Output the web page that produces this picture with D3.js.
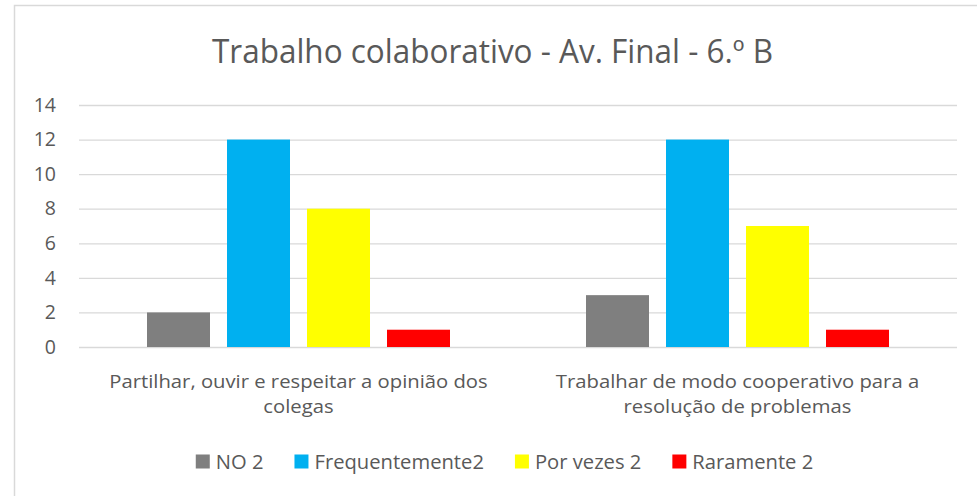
<!DOCTYPE html>
<html>
<head>
<meta charset="utf-8">
<script src="https://cdn.jsdelivr.net/npm/d3@7/dist/d3.min.js"></script>
<style>
  html, body { margin: 0; padding: 0; background: #fff; }
  svg { display: block; font-family: "Open Sans", "DejaVu Sans", sans-serif; }
</style>
</head>
<body>
<svg id="chart" width="977" height="496"></svg>
<script>
const title = "Trabalho colaborativo - Av. Final - 6.º B";
const categories = [
  ["Partilhar, ouvir e respeitar a opinião dos", "colegas"],
  ["Trabalhar de modo cooperativo para a", "resolução de problemas"]
];
const seriesNames = ["NO 2", "Frequentemente2", "Por vezes 2", "Raramente 2"];
const seriesColors = ["#7f7f7f", "#00b0f0", "#ffff00", "#ff0000"];
const valuesNO = [2, 3];
const valuesFrequentemente = [12, 12];
const valuesPorVezes = [8, 7];
const valuesRaramente = [1, 1];
const yTicks = [0, 2, 4, 6, 8, 10, 12, 14];

const seriesValues = [valuesNO, valuesFrequentemente, valuesPorVezes, valuesRaramente];
const textColor = "#595959";
const gridColor = "#d9d9d9";

const svg = d3.select("#chart");

// outer chart border
svg.append("rect")
  .attr("x", 14.5).attr("y", 5.5)
  .attr("width", 980).attr("height", 500)
  .attr("fill", "#fff")
  .attr("stroke", gridColor).attr("stroke-width", 1.5);

const plot = { left: 79, right: 957, top: 105, bottom: 347 };

const x0 = d3.scaleBand()
  .domain(d3.range(categories.length))
  .range([plot.left, plot.right])
  .padding(0);

const outerPad = 68;
const x1 = d3.scaleBand()
  .domain(d3.range(seriesNames.length))
  .range([outerPad, x0.bandwidth() - outerPad])
  .paddingInner(0.2125)
  .paddingOuter(0);

const y = d3.scaleLinear().domain([0, 14]).range([plot.bottom, plot.top]);

// gridlines + tick labels
const yAxis = d3.axisLeft(y)
  .tickValues(yTicks)
  .tickSize(-(plot.right - plot.left))
  .tickPadding(23)
  .tickFormat(d3.format("d"));

const gy = svg.append("g")
  .attr("transform", `translate(${plot.left},0)`)
  .call(yAxis);
gy.select(".domain").remove();
gy.selectAll(".tick line")
  .attr("stroke", gridColor)
  .attr("stroke-width", 1.3);
gy.selectAll(".tick text")
  .attr("fill", textColor)
  .attr("font-size", 19.5)
  .attr("font-family", "'Open Sans', sans-serif");

// bars
const groups = svg.append("g").selectAll("g")
  .data(categories.map((c, i) => i))
  .join("g")
  .attr("transform", i => `translate(${x0(i)},0)`);

groups.selectAll("rect")
  .data(i => seriesValues.map((vals, s) => ({ s, v: vals[i] })))
  .join("rect")
  .attr("x", d => x1(d.s))
  .attr("width", x1.bandwidth())
  .attr("y", d => y(d.v))
  .attr("height", d => y(0) - y(d.v))
  .attr("fill", d => seriesColors[d.s]);

// category labels (one text per line, widened to match the reference)
const catG = svg.append("g");
categories.forEach((lines, i) => {
  const cx = x0(i) + x0.bandwidth() / 2;
  lines.forEach((ln, j) => {
    const t = catG.append("text")
      .attr("x", cx)
      .attr("y", 387.5 + j * 25)
      .attr("text-anchor", "middle")
      .attr("fill", textColor)
      .attr("font-size", 18)
      .text(ln);
    const w = t.node().getComputedTextLength();
    t.attr("textLength", w * 1.125).attr("lengthAdjust", "spacingAndGlyphs");
  });
});

// title
svg.append("text")
  .attr("x", 492.5)
  .attr("y", 63)
  .attr("text-anchor", "middle")
  .attr("fill", textColor)
  .attr("font-size", 32)
  .attr("textLength", 561)
  .attr("lengthAdjust", "spacingAndGlyphs")
  .text(title);

// legend
const legend = svg.append("g");
const sq = 14, gapSqText = 6, gapItems = 31;
let lx = 0;
seriesNames.forEach((name, s) => {
  const g = legend.append("g").attr("transform", `translate(${lx},0)`);
  g.append("rect")
    .attr("x", 0).attr("y", 454.5)
    .attr("width", sq).attr("height", sq)
    .attr("fill", seriesColors[s]);
  const t = g.append("text")
    .attr("x", sq + gapSqText)
    .attr("y", 468.5)
    .attr("fill", textColor)
    .attr("font-size", 20.2)
    .text(name);
  const w = t.node().getComputedTextLength();
  lx += sq + gapSqText + w + gapItems;
});
const totalW = lx - gapItems;
legend.attr("transform", `translate(${504.5 - totalW / 2},0)`);
</script>
</body>
</html>
